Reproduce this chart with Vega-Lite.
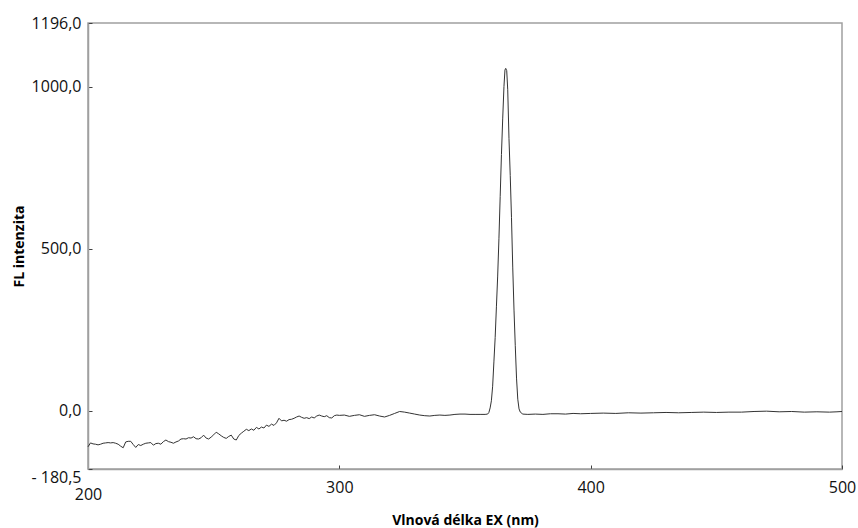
{
  "$schema": "https://vega.github.io/schema/vega-lite/v6.json",
  "width": 754,
  "height": 446,
  "autosize": {"type": "none"},
  "padding": {"left": 88, "top": 23, "right": 16, "bottom": 59},
  "background": "white",
  "config": {
    "view": {"stroke": "#a0a0a0", "strokeWidth": 1.5},
    "font": "Open Sans"
  },
  "data": {
    "values": [
      {"nm": 200, "fl": -112}, {"nm": 201, "fl": -100}, {"nm": 202, "fl": -103}, {"nm": 203, "fl": -104},
      {"nm": 204, "fl": -106}, {"nm": 205, "fl": -104}, {"nm": 206, "fl": -101}, {"nm": 207, "fl": -100},
      {"nm": 208, "fl": -99}, {"nm": 209, "fl": -100}, {"nm": 210, "fl": -99}, {"nm": 211, "fl": -101},
      {"nm": 212, "fl": -104}, {"nm": 213, "fl": -110}, {"nm": 214, "fl": -115}, {"nm": 215, "fl": -97},
      {"nm": 216, "fl": -95}, {"nm": 217, "fl": -95}, {"nm": 218, "fl": -105}, {"nm": 219, "fl": -114},
      {"nm": 220, "fl": -105}, {"nm": 221, "fl": -108}, {"nm": 222, "fl": -104}, {"nm": 223, "fl": -101},
      {"nm": 224, "fl": -100}, {"nm": 225, "fl": -99}, {"nm": 226, "fl": -107}, {"nm": 227, "fl": -102},
      {"nm": 228, "fl": -101}, {"nm": 229, "fl": -104}, {"nm": 230, "fl": -96}, {"nm": 231, "fl": -91},
      {"nm": 232, "fl": -96}, {"nm": 233, "fl": -98}, {"nm": 234, "fl": -101}, {"nm": 235, "fl": -97},
      {"nm": 236, "fl": -94}, {"nm": 237, "fl": -88}, {"nm": 238, "fl": -87}, {"nm": 239, "fl": -88},
      {"nm": 240, "fl": -84}, {"nm": 241, "fl": -85}, {"nm": 242, "fl": -81}, {"nm": 243, "fl": -87},
      {"nm": 244, "fl": -88}, {"nm": 245, "fl": -84}, {"nm": 246, "fl": -76}, {"nm": 247, "fl": -85},
      {"nm": 248, "fl": -88}, {"nm": 249, "fl": -82}, {"nm": 250, "fl": -75}, {"nm": 251, "fl": -67},
      {"nm": 252, "fl": -72}, {"nm": 253, "fl": -78}, {"nm": 254, "fl": -83}, {"nm": 255, "fl": -86},
      {"nm": 256, "fl": -80}, {"nm": 257, "fl": -76}, {"nm": 258, "fl": -88}, {"nm": 259, "fl": -91},
      {"nm": 260, "fl": -77}, {"nm": 261, "fl": -70}, {"nm": 262, "fl": -64}, {"nm": 263, "fl": -58},
      {"nm": 264, "fl": -62}, {"nm": 265, "fl": -57}, {"nm": 266, "fl": -61}, {"nm": 267, "fl": -52},
      {"nm": 268, "fl": -57}, {"nm": 269, "fl": -51}, {"nm": 270, "fl": -54}, {"nm": 271, "fl": -45},
      {"nm": 272, "fl": -49}, {"nm": 273, "fl": -42}, {"nm": 274, "fl": -46}, {"nm": 275, "fl": -38},
      {"nm": 276, "fl": -24}, {"nm": 277, "fl": -32}, {"nm": 278, "fl": -30}, {"nm": 279, "fl": -33},
      {"nm": 280, "fl": -28}, {"nm": 281, "fl": -27}, {"nm": 282, "fl": -24}, {"nm": 283, "fl": -20},
      {"nm": 284, "fl": -17}, {"nm": 285, "fl": -21}, {"nm": 286, "fl": -24}, {"nm": 287, "fl": -22},
      {"nm": 288, "fl": -25}, {"nm": 289, "fl": -20}, {"nm": 290, "fl": -23}, {"nm": 291, "fl": -17},
      {"nm": 292, "fl": -14}, {"nm": 293, "fl": -17}, {"nm": 294, "fl": -19}, {"nm": 295, "fl": -16},
      {"nm": 296, "fl": -22}, {"nm": 297, "fl": -23}, {"nm": 298, "fl": -16}, {"nm": 299, "fl": -14},
      {"nm": 300, "fl": -15}, {"nm": 302, "fl": -14}, {"nm": 304, "fl": -18}, {"nm": 306, "fl": -15},
      {"nm": 308, "fl": -13}, {"nm": 310, "fl": -18}, {"nm": 312, "fl": -15}, {"nm": 314, "fl": -13},
      {"nm": 316, "fl": -17}, {"nm": 318, "fl": -20}, {"nm": 320, "fl": -15}, {"nm": 322, "fl": -9},
      {"nm": 324, "fl": -3}, {"nm": 326, "fl": -5}, {"nm": 328, "fl": -8}, {"nm": 330, "fl": -11},
      {"nm": 332, "fl": -14}, {"nm": 334, "fl": -16}, {"nm": 336, "fl": -17}, {"nm": 338, "fl": -15},
      {"nm": 340, "fl": -14}, {"nm": 342, "fl": -15}, {"nm": 344, "fl": -14}, {"nm": 346, "fl": -12},
      {"nm": 348, "fl": -11}, {"nm": 350, "fl": -11}, {"nm": 352, "fl": -12}, {"nm": 354, "fl": -12},
      {"nm": 356, "fl": -12}, {"nm": 358, "fl": -12}, {"nm": 359, "fl": -11}, {"nm": 359.5, "fl": -6},
      {"nm": 360, "fl": 8}, {"nm": 360.5, "fl": 30}, {"nm": 361, "fl": 75}, {"nm": 361.5, "fl": 150},
      {"nm": 362, "fl": 225}, {"nm": 362.5, "fl": 320}, {"nm": 363, "fl": 415}, {"nm": 363.5, "fl": 530},
      {"nm": 364, "fl": 660}, {"nm": 364.5, "fl": 790}, {"nm": 365, "fl": 900}, {"nm": 365.5, "fl": 1000},
      {"nm": 365.9, "fl": 1051}, {"nm": 366.2, "fl": 1056}, {"nm": 366.6, "fl": 1049}, {"nm": 367, "fl": 990},
      {"nm": 367.5, "fl": 840}, {"nm": 368, "fl": 725}, {"nm": 368.5, "fl": 595}, {"nm": 369, "fl": 440},
      {"nm": 369.5, "fl": 310}, {"nm": 370, "fl": 200}, {"nm": 370.5, "fl": 100}, {"nm": 371, "fl": 35},
      {"nm": 371.5, "fl": 5}, {"nm": 372, "fl": -5}, {"nm": 373, "fl": -11}, {"nm": 375, "fl": -12},
      {"nm": 378, "fl": -11}, {"nm": 381, "fl": -12}, {"nm": 384, "fl": -10}, {"nm": 387, "fl": -10},
      {"nm": 390, "fl": -11}, {"nm": 393, "fl": -9}, {"nm": 396, "fl": -10}, {"nm": 400, "fl": -9},
      {"nm": 405, "fl": -8}, {"nm": 410, "fl": -9}, {"nm": 415, "fl": -7}, {"nm": 420, "fl": -8},
      {"nm": 425, "fl": -7}, {"nm": 430, "fl": -6}, {"nm": 435, "fl": -7}, {"nm": 440, "fl": -6},
      {"nm": 445, "fl": -5}, {"nm": 450, "fl": -6}, {"nm": 455, "fl": -5}, {"nm": 460, "fl": -5},
      {"nm": 465, "fl": -3}, {"nm": 470, "fl": -2}, {"nm": 475, "fl": -4}, {"nm": 480, "fl": -3},
      {"nm": 485, "fl": -5}, {"nm": 490, "fl": -4}, {"nm": 495, "fl": -5}, {"nm": 498, "fl": -4},
      {"nm": 500, "fl": -3}
    ]
  },
  "mark": {"type": "line", "stroke": "#333333", "strokeWidth": 1, "interpolate": "linear"},
  "encoding": {
    "x": {
      "field": "nm",
      "type": "quantitative",
      "scale": {"domain": [200, 500], "nice": false, "zero": false},
      "axis": {
        "title": "Vlnová délka EX (nm)",
        "values": [200, 300, 400, 500],
        "grid": false,
        "domainColor": "#a0a0a0",
        "domainWidth": 1.5,
        "tickColor": "#404040",
        "tickSize": -4,
        "labelPadding": {"condition": {"test": "datum.value == 200", "value": 21}, "value": 14},
        "labelFont": "Open Sans",
        "labelFontSize": 16,
        "labelColor": "#111",
        "labelFlush": false,
        "labelOverlap": false,
        "titleFont": "Open Sans",
        "titleFontSize": 14,
        "titleFontWeight": "bold",
        "titleColor": "#000",
        "titleY": 51,
        "titleBaseline": "middle"
      }
    },
    "y": {
      "field": "fl",
      "type": "quantitative",
      "scale": {"domain": [-180.5, 1196], "nice": false, "zero": false},
      "axis": {
        "title": "FL intenzita",
        "values": [-180.5, 0, 500, 1000, 1196],
        "labelExpr": "datum.value < 0 ? '- ' + replace(format(-datum.value, '.1f'), '.', ',') : replace(format(datum.value, '.1f'), '.', ',')",
        "grid": false,
        "domainColor": "#a0a0a0",
        "domainWidth": 1.5,
        "tickColor": "#404040",
        "tickSize": -4,
        "labelPadding": 11,
        "labelFont": "Open Sans",
        "labelFontSize": 16,
        "labelColor": "#111",
        "labelFlush": false,
        "labelOverlap": false,
        "labelBaseline": {"condition": {"test": "datum.value < -100", "value": "top"}, "value": "middle"},
        "titleFont": "Open Sans",
        "titleFontSize": 14,
        "titleFontWeight": "bold",
        "titleColor": "#000",
        "titleX": -69,
        "titleBaseline": "middle"
      }
    }
  }
}
